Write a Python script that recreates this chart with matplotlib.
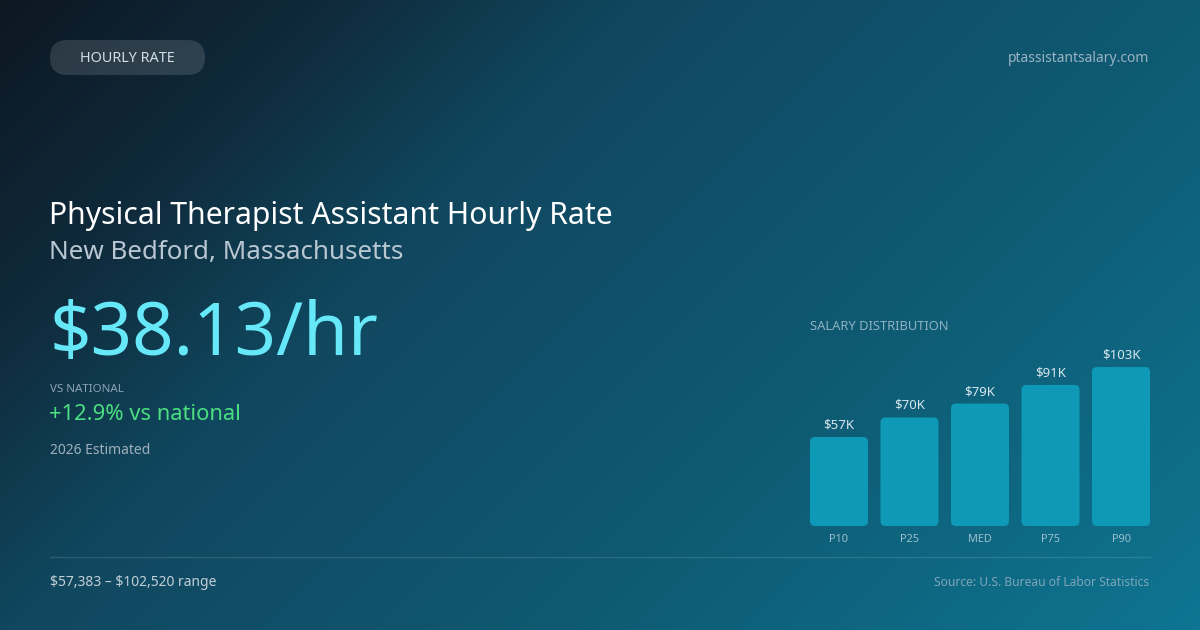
import numpy as np
import matplotlib
matplotlib.use("Agg")
import matplotlib.pyplot as plt
from matplotlib.patches import FancyBboxPatch
from matplotlib.colors import LinearSegmentedColormap
from matplotlib.transforms import IdentityTransform

# ---------------- data ----------------
categories = ["P10", "P25", "MED", "P75", "P90"]
salary_k = [57.383, 70.0, 79.0, 91.0, 102.52]
value_labels = ["$57K", "$70K", "$79K", "$91K", "$103K"]

pill_label = "HOURLY RATE"
site = "ptassistantsalary.com"
title = "Physical Therapist Assistant Hourly Rate"
subtitle = "New Bedford, Massachusetts"
headline = "$38.13/hr"
vs_label = "VS NATIONAL"
vs_value = "+12.9% vs national"
est_label = "2026 Estimated"
dist_label = "SALARY DISTRIBUTION"
range_label = "$57,383 \u2013 $102,520 range"
source_label = "Source: U.S. Bureau of Labor Statistics"

W, H = 1200, 630
plt.rcParams['font.family'] = ['Noto Sans', 'DejaVu Sans']
plt.rcParams['text.parse_math'] = False

fig = plt.figure(figsize=(W / 100, H / 100), dpi=100)

# ---------------- background gradient ----------------
bg = fig.add_axes([0, 0, 1, 1])
bg.set_axis_off()
yy, xx = np.mgrid[0:H, 0:W]
L = W * 0.7071 + H * 0.7071
t = 0.5 + ((xx - W / 2) * 0.7071 + (yy - H / 2) * 0.7071) / L
cmap = LinearSegmentedColormap.from_list(
    "bg", [(0.0, "#0d1722"), (0.18, "#0f2a3b"), (0.344, "#10475e"),
           (0.5, "#11506a"), (0.656, "#0e5a72"), (1.0, "#0f7592")])
bg.imshow(t, cmap=cmap, aspect="auto", extent=[0, W, H, 0], vmin=0, vmax=1)
bg.set_xlim(0, W)
bg.set_ylim(H, 0)


def fx(px):
    return px / W


def fy(py):
    return 1 - py / H


# ---------------- pill ----------------
pill = FancyBboxPatch((50, H - 75), 155, 35,
                      boxstyle="round,pad=0,rounding_size=17.5",
                      transform=IdentityTransform(), facecolor="#ffffff",
                      alpha=0.13, edgecolor="none", zorder=2)
fig.patches.append(pill)
fig.text(fx(127.5), fy(59), pill_label, color="#d3dde6", fontsize=10.4,
         ha="center", va="center", zorder=3)

fig.text(fx(1149), fy(59), site, color="#9ab3c3", fontsize=10,
         ha="right", va="center")

# ---------------- left texts ----------------
fig.text(fx(49), fy(216), title, color="#ffffff", fontsize=21.7,
         ha="left", va="center")
fig.text(fx(49), fy(253), subtitle, color="#b9c7d2", fontsize=18.7,
         ha="left", va="center")
fig.text(fx(49), fy(336), headline, color="#67e8f9", fontsize=52.3,
         ha="left", va="center")
fig.text(fx(50), fy(389), vs_label, color="#8ea4b4", fontsize=8.3,
         ha="left", va="center")
fig.text(fx(49), fy(415), vs_value, color="#4ade80", fontsize=15.8,
         ha="left", va="center")
fig.text(fx(50), fy(451), est_label, color="#9eb0bd", fontsize=10,
         ha="left", va="center")

# ---------------- distribution chart ----------------
fig.text(fx(810), fy(326), dist_label, color="#8fb3c4", fontsize=9.3,
         ha="left", va="center")

ax_left, ax_right = 810, 1150
ax_bottom_px, ax_h_px = 526, 200
ax = fig.add_axes([ax_left / W, (H - ax_bottom_px) / H,
                   (ax_right - ax_left) / W, ax_h_px / H])
ax.patch.set_alpha(0)
for s in ax.spines.values():
    s.set_visible(False)
ax.set_xticks([])
ax.set_yticks([])
xlim = (-0.411, 4.411)
ylim = (0, 129)
ax.set_xlim(*xlim)
ax.set_ylim(*ylim)

x = np.arange(len(categories))
bars = ax.bar(x, salary_k, width=0.823, color="#0e9ab6")
x_per_px = (xlim[1] - xlim[0]) / (ax_right - ax_left)
y_per_px = (ylim[1] - ylim[0]) / ax_h_px
aspect = y_per_px / x_per_px
for b in bars:
    b.set_visible(False)
    rb = FancyBboxPatch((b.get_x(), b.get_y()), b.get_width(), b.get_height(),
                        boxstyle=f"round,pad=0,rounding_size={5 * x_per_px}",
                        mutation_aspect=aspect, facecolor="#0e9ab6",
                        edgecolor="none")
    ax.add_patch(rb)

for xi, v, lab in zip(x, salary_k, value_labels):
    ax.annotate(lab, (xi, v), xytext=(0, 12), textcoords="offset pixels",
                ha="center", va="center", color="#d8e6ee", fontsize=9.5)

for xi, c in zip(x, categories):
    ax.annotate(c, (xi, 0), xytext=(0, -14), textcoords="offset pixels",
                ha="center", va="center", color="#9cc0cf", fontsize=7.9,
                annotation_clip=False)

# ---------------- separator & footer ----------------
fig.add_artist(plt.Line2D([fx(50), fx(1150)], [fy(556.5), fy(556.5)],
                          transform=fig.transFigure, color="#ffffff",
                          alpha=0.12, linewidth=1))
fig.text(fx(50), fy(583), range_label, color="#c3cfd8", fontsize=10,
         ha="left", va="center")
fig.text(fx(1149), fy(583), source_label, color="#7ea6b9", fontsize=8.7,
         ha="right", va="center")

fig.savefig("out.png", dpi=100)
